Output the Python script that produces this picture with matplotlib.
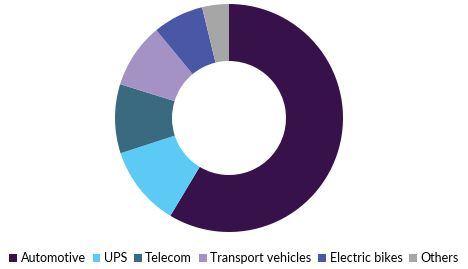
import matplotlib.pyplot as plt
from matplotlib.patches import Patch

labels = ['Automotive', 'UPS', 'Telecom', 'Transport vehicles', 'Electric bikes', 'Others']
values = [58.6, 11.4, 9.8, 9.2, 7.2, 3.8]
colors = ['#37114a', '#5bcbf5', '#3a6a80', '#a592c5', '#4a56a6', '#a6a6a6']

fig = plt.figure(figsize=(4.68, 2.69), dpi=100)
ax = fig.add_axes([115/468, 37/269, 228/468, 228/269])
ax.pie(values, colors=colors, startangle=90, counterclock=False,
       wedgeprops=dict(width=0.5, edgecolor='none'))
ax.set_xlim(-1, 1)
ax.set_ylim(-1, 1)
ax.set_aspect('equal')
ax.axis('off')

handles = [Patch(facecolor=c, edgecolor='none') for c in colors]
fig.legend(handles, labels, loc='center', bbox_to_anchor=(0.5, 11/269),
           ncol=6, frameon=False, handlelength=0.6, handleheight=0.6,
           handletextpad=0.3, columnspacing=0.55, prop={'family': 'Lato', 'size': 9})

fig.savefig('out.png', dpi=100)
